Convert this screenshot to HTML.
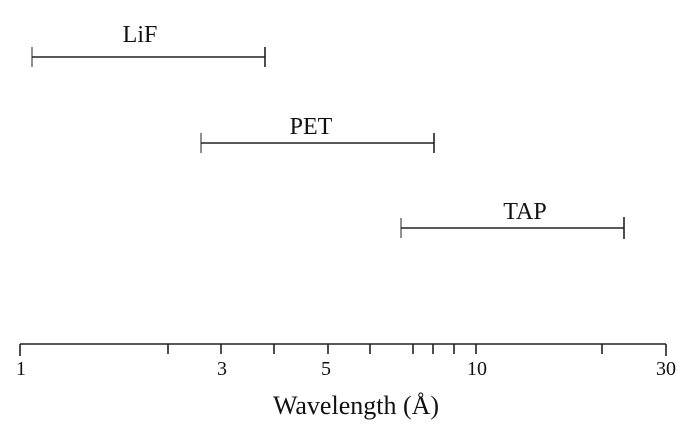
<!DOCTYPE html>
<html><head><style>
html,body{margin:0;padding:0;background:#fff;}
svg{display:block;}
text{font-family:"Liberation Serif",serif;fill:#111;}
</style></head><body>
<svg width="696" height="428" viewBox="0 0 696 428">
<g stroke="#222" stroke-width="1.6" fill="none">
<line x1="32" y1="57" x2="265" y2="57"/><line x1="32" y1="47" x2="32" y2="67" stroke-width="1"/><line x1="265" y1="47" x2="265" y2="67"/>
<line x1="201" y1="143" x2="434" y2="143"/><line x1="201" y1="133" x2="201" y2="153" stroke-width="1"/><line x1="434" y1="133" x2="434" y2="153"/>
<line x1="401" y1="228" x2="624" y2="228"/><line x1="401" y1="218" x2="401" y2="238" stroke-width="1"/><line x1="624" y1="217" x2="624" y2="239"/>
<line x1="20" y1="344" x2="666" y2="344"/>
<line x1="20" y1="344" x2="20" y2="356"/><line x1="168" y1="344" x2="168" y2="354"/><line x1="221" y1="344" x2="221" y2="354"/>
<line x1="274" y1="344" x2="274" y2="354"/><line x1="328" y1="344" x2="328" y2="354"/><line x1="370" y1="344" x2="370" y2="354"/>
<line x1="413" y1="344" x2="413" y2="354"/><line x1="433" y1="344" x2="433" y2="354"/><line x1="454" y1="344" x2="454" y2="354"/>
<line x1="476" y1="344" x2="476" y2="354"/><line x1="602" y1="344" x2="602" y2="354"/><line x1="666" y1="344" x2="666" y2="356"/>
</g>
<g font-size="24" text-anchor="middle">
<text x="140" y="42">LiF</text>
<text x="311" y="134">PET</text>
<text x="525" y="219">TAP</text>
</g>
<g font-size="20" text-anchor="middle">
<text x="21" y="375">1</text><text x="222" y="375">3</text><text x="326" y="375">5</text><text x="477" y="375">10</text><text x="666" y="375">30</text>
</g>
<text x="356" y="414" font-size="26" text-anchor="middle">Wavelength (Å)</text>
</svg>
</body></html>
